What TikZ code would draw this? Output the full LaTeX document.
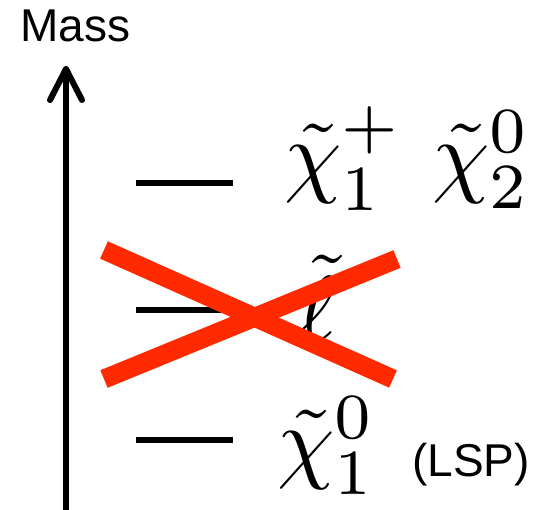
\RequirePackage{fix-cm}
\documentclass[tikz,border=0pt]{standalone}
\usepackage{fontspec}
\usetikzlibrary{calc}
\newfontfamily\labelsans{Liberation Sans}
\definecolor{crossred}{RGB}{255,42,0}
\newcommand{\bigsym}[1]{\scalebox{9.2}{$#1$}}
\begin{document}
\begin{tikzpicture}[x=1pt,y=-1pt,
  level/.style={line width=6pt},
  axis/.style={line width=6pt,line cap=round,line join=round},
  particle/.style={inner sep=0pt,anchor=base west},
  sanslabel/.style={inner sep=0pt,anchor=base west},
  crossline/.style={line width=19pt,crossred}]
\useasboundingbox (0,0) rectangle (539,510);
% axis
\coordinate (axbot) at (66,512);
\coordinate (axtip) at (66,69);
\draw[axis] (axbot) -- (axtip);
\draw[axis] ($(axtip)+(-16,31)$) -- (axtip) -- ($(axtip)+(16,31)$);
\node[sanslabel,font=\labelsans\fontsize{46}{50}\selectfont] (mass) at (20,42) {Mass};
% levels
\coordinate (l1a) at (136,183); \coordinate (l1b) at (233,183);
\coordinate (l2a) at (136,310); \coordinate (l2b) at (232,310);
\coordinate (l3a) at (136,440); \coordinate (l3b) at (233,440);
\draw[level] (l1a) -- (l1b);
\draw[level] (l2a) -- (l2b);
\draw[level] (l3a) -- (l3b);
% labels
\node[particle] (chip) at (284,186) {\bigsym{\tilde\chi_1^+}};
\node[particle] (chiz2) at (432,186) {\bigsym{\tilde\chi_2^0}};
\node[particle] (slep) at (298,341) {\bigsym{\tilde\ell}};
\node[particle] (chiz1) at (277,472) {\bigsym{\tilde\chi_1^0}};
\node[sanslabel,font=\labelsans\fontsize{46}{50}\selectfont] (lsp) at (412,477) {(LSP)};
% cross
\coordinate (c1a) at (104,250); \coordinate (c1b) at (393,379);
\coordinate (c2a) at (104,379); \coordinate (c2b) at (397,259);
\draw[crossline] (c1a) -- (c1b);
\draw[crossline] (c2a) -- (c2b);
\end{tikzpicture}
\end{document}
